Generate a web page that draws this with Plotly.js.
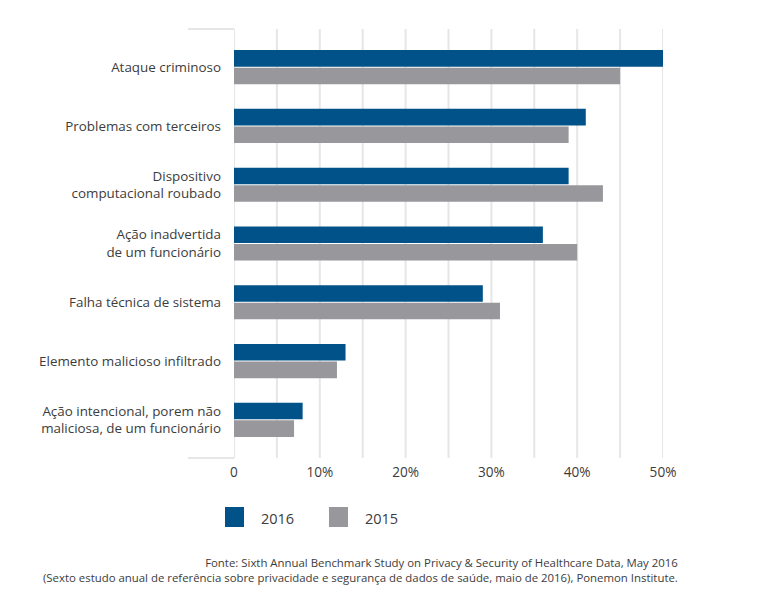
<!DOCTYPE html>
<html>
<head>
<meta charset="utf-8">
<script src="https://cdn.plot.ly/plotly-3.0.1.min.js"></script>
<style>html,body{margin:0;padding:0;background:#fff;}#chart{width:757px;height:598px;}</style>
</head>
<body>
<div id="chart"></div>
<script>
const categories = [
  "Ataque criminoso",
  "Problemas com terceiros",
  "Dispositivo<br>computacional roubado",
  "Ação inadvertida<br>de um funcionário",
  "Falha técnica de sistema",
  "Elemento malicioso infiltrado",
  "Ação intencional, porem não<br>maliciosa, de um funcionário"
];
const values2016 = [50, 41, 39, 36, 29, 13, 8];
const values2015 = [45, 39, 43, 40, 31, 12, 7];
const tickVals = [0, 10, 20, 30, 40, 50];
const tickText = ["0", "10%", "20%", "30%", "40%", "50%"];
const seriesNames = ["2016", "2015"];

const C2016 = "#005288";
const C2015 = "#98989c";
const FONT = "Open Sans, Noto Sans, sans-serif";
const TXT = "#3c3c3c";

const traces = [
  {type: "bar", orientation: "h", name: seriesNames[0], y: categories, x: values2016,
   marker: {color: C2016}, showlegend: false, hoverinfo: "x+name"},
  {type: "bar", orientation: "h", name: seriesNames[1], y: categories, x: values2015,
   marker: {color: C2015}, showlegend: false, hoverinfo: "x+name"}
];

const gridCol = "#e6e6e6";
const layout = {
  width: 757, height: 598,
  margin: {l: 234, r: 94, t: 29, b: 140},
  paper_bgcolor: "#fff", plot_bgcolor: "#fff",
  barmode: "group", bargap: 0.4, bargroupgap: 0.06,
  font: {family: FONT, color: TXT, size: 13.4},
  xaxis: {range: [0, 50], tickvals: tickVals, ticktext: tickText,
    showgrid: false, zeroline: false, showline: false, ticks: "", ticklabelstandoff: 4,
    tickfont: {size: 13.6, color: TXT}, fixedrange: true},
  yaxis: {type: "category", range: [6.65, -0.65], showgrid: false, zeroline: false,
    showline: false, ticks: "", ticklabelstandoff: 12,
    tickfont: {size: 13.4, color: TXT}, fixedrange: true},
  shapes: [],
  annotations: []
};
// vertical grid every 5%
for (let v = 5; v <= 50; v += 5) {
  layout.shapes.push({type: "line", xref: "x", yref: "paper", x0: v, x1: v, y0: 0, y1: 1,
    line: {color: gridCol, width: 2}, layer: "below"});
}
// left bracket axis
layout.shapes.push({type: "line", xref: "x", yref: "paper", x0: 0, x1: 0, y0: 0, y1: 1,
  line: {color: gridCol, width: 2}, layer: "below"});
layout.shapes.push({type: "line", xref: "paper", yref: "paper", x0: -0.107, x1: 0, y0: 1, y1: 1,
  line: {color: gridCol, width: 2}, layer: "below"});
layout.shapes.push({type: "line", xref: "paper", yref: "paper", x0: -0.107, x1: 0, y0: 0, y1: 0,
  line: {color: gridCol, width: 2}, layer: "below"});

// legend (drawn)
const legendItems = [{x: 225, c: C2016, t: seriesNames[0]}, {x: 329, c: C2015, t: seriesNames[1]}];
legendItems.forEach(it => {
  layout.shapes.push({type: "rect", xref: "paper", yref: "paper",
    x0: (it.x - 234) / 429, x1: (it.x + 19 - 234) / 429,
    y0: (598 - 140 - 527) / 429, y1: (598 - 140 - 507) / 429,
    fillcolor: it.c, line: {width: 0}});
  layout.annotations.push({xref: "paper", yref: "paper", x: (it.x + 34 - 234) / 429,
    y: (598 - 140 - 518) / 429, xanchor: "left", yanchor: "middle", showarrow: false,
    text: it.t, font: {size: 14.5, color: TXT}});
});

layout.annotations.push({xref: "paper", yref: "paper", x: (680 - 234) / 429,
  y: (598 - 140 - 570) / 429, xanchor: "right", yanchor: "middle", align: "right", showarrow: false,
  text: "Fonte: Sixth Annual Benchmark Study on Privacy &amp; Security of Healthcare Data, May 2016<br>(Sexto estudo anual de referência sobre privacidade e segurança de dados de saúde, maio de 2016), Ponemon Institute.",
  font: {size: 11.4, color: TXT}});

Plotly.newPlot("chart", traces, layout, {displayModeBar: false, staticPlot: true});
</script>
</body>
</html>
